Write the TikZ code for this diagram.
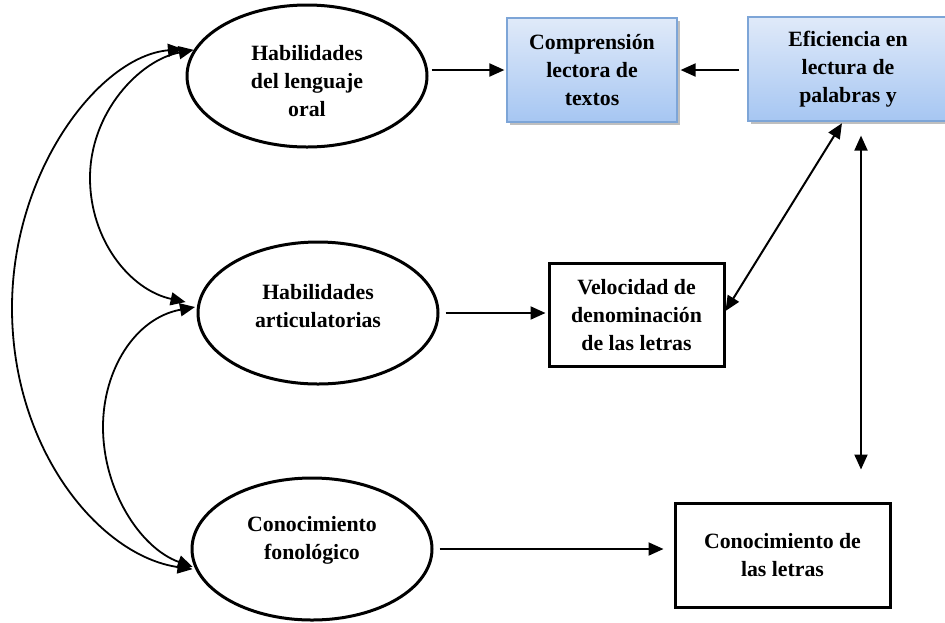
\documentclass[tikz,border=0pt]{standalone}
\usepackage{fontspec}
\setmainfont{Liberation Serif}
\usetikzlibrary{shapes.geometric,arrows.meta,shadows}
\begin{document}
\begin{tikzpicture}[x=1pt,y=-1pt,
  txt/.style={font=\fontsize{21.8}{28}\selectfont\bfseries, align=center, text=black},
  oval/.style={ellipse, draw, line width=3pt, minimum width=240pt, minimum height=142pt, inner sep=0pt},
  wbox/.style={rectangle, draw, line width=3pt, inner sep=0pt, txt},
  bbox/.style={rectangle, draw={rgb,255:red,125;green,165;blue,215}, line width=1.2pt, inner sep=0pt, txt,
     top color={rgb,255:red,224;green,234;blue,249}, bottom color={rgb,255:red,166;green,198;blue,242},
     drop shadow={shadow xshift=3pt, shadow yshift=-3pt, opacity=0.25, fill=black}},
  arr/.style={line width=2pt, -{Triangle[length=15pt,width=13pt]}},
  dbl/.style={line width=2pt, {Triangle[length=15pt,width=13pt]}-{Triangle[length=15pt,width=13pt]}},
  curv/.style={line width=1.8pt, {Triangle[length=15pt,width=13pt]}-{Triangle[length=15pt,width=13pt]}}]
\fill[white] (0,0) rectangle (945,622);
\useasboundingbox (0,0) rectangle (945,622);

% ellipses
\node[oval, label={[txt, yshift=-5pt]center:{Habilidades\\del lenguaje\\oral}}] (e1) at (307,76) {};
\node[oval, label={[txt, yshift=7pt]center:{Habilidades\\articulatorias}}] (e2) at (318,313) {};
\node[oval, label={[txt, yshift=9pt]center:{Conocimiento\\fonológico}}] (e3) at (312,549) {};

% boxes
\node[bbox, minimum width=170pt, minimum height=104pt] (comp) at (592,70) {Comprensión\\lectora de\\textos};
\node[bbox, minimum width=200pt, minimum height=104pt] (eff) at (848,69) {Eficiencia en\\lectura de\\palabras y};
\node[wbox, minimum width=175pt, minimum height=103pt] (vel) at (636.5,315) {Velocidad de\\denominación\\de las letras};
\node[wbox, minimum width=215pt, minimum height=104pt] (con) at (782.5,555) {Conocimiento de\\las letras};

% straight arrows
\draw[arr, shorten <=3pt, shorten >=2pt] (e1.east |- comp.west) -- (comp.west);
\draw[arr, shorten <=8pt, shorten >=3pt] (eff.west |- comp.east) -- (comp.east);
\draw[arr, shorten <=6pt, shorten >=2pt] (e2.east) -- (e2.east -| vel.west);
\draw[arr, shorten <=6pt, shorten >=10pt] (e3.east) -- (e3.east -| con.west);
\draw[dbl, shorten >=2pt] ([yshift=4pt]vel.east) -- ([xshift=-5pt]eff.south);
\draw[dbl, shorten <=14pt, shorten >=32pt] ([xshift=13pt]eff.south) -- ([xshift=13pt]eff.south |- con.north);

% curved double arrows
\draw[curv, shorten <=12pt, shorten >=3pt] (e1.166) .. controls (100,56) and (12,170) .. (12,308)
   .. controls (12,450) and (100,556) .. (e3.190);
\draw[curv, shorten >=12pt] (e1.167) .. controls (140,60) and (90,112) .. (90,178)
   .. controls (90,240) and (130,290) .. (e2.176);
\draw[curv, shorten <=2pt, shorten >=2pt] (e2.177) .. controls (135,318) and (103,370) .. (103,427)
   .. controls (103,490) and (140,548) .. (e3.189);
\end{tikzpicture}
\end{document}
